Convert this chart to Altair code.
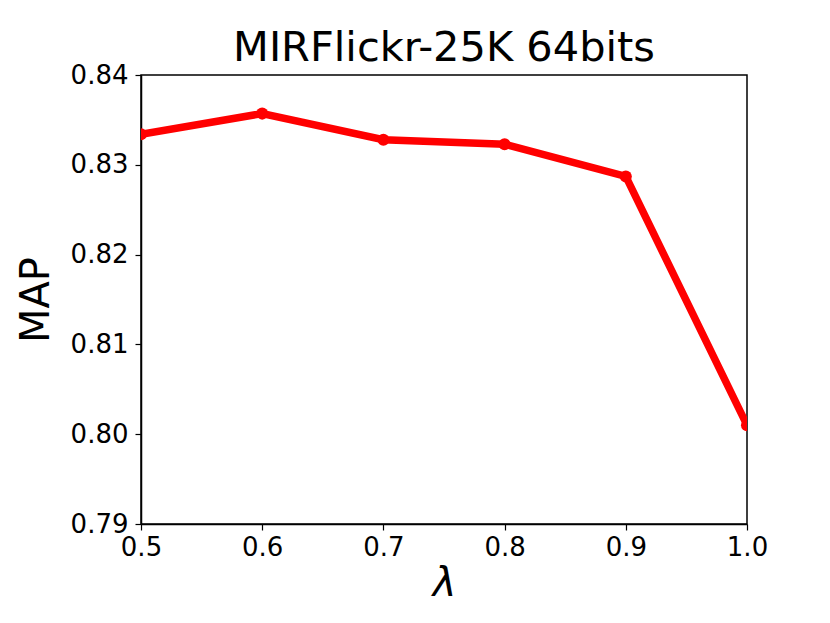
import altair as alt
import pandas as pd

lam = [0.5, 0.6, 0.7, 0.8, 0.9, 1.0]
map_vals = [0.8334, 0.8357, 0.8328, 0.8323, 0.8287, 0.8010]
y_ticks = [0.79, 0.80, 0.81, 0.82, 0.83, 0.84]

df = pd.DataFrame({"lam": lam, "map": map_vals})

FONT = "DejaVu Sans"

x = alt.X("lam:Q", scale=alt.Scale(domain=[0.5, 1.0], nice=False, zero=False),
          axis=alt.Axis(title="λ", values=lam, format=".1f", titleFontStyle="italic",
                        titleFontSize=40, titleFontWeight="normal", labelFontSize=26,
                        titlePadding=3, labelPadding=4, labelFlush=False))
y = alt.Y("map:Q", scale=alt.Scale(domain=[0.79, 0.84], nice=False, zero=False),
          axis=alt.Axis(title="MAP", values=y_ticks, format=".2f",
                        titleFontSize=40, titleFontWeight="normal", labelFontSize=26,
                        titlePadding=14, labelPadding=7, labelFlush=False))

line = alt.Chart(df).mark_line(color="#ff0000", strokeWidth=7.5, clip=True).encode(x=x, y=y)
pts = alt.Chart(df).mark_circle(color="#ff0000", size=145, opacity=1, clip=True).encode(x=x, y=y)

chart = (line + pts).properties(
    width=606, height=449,
    title=alt.TitleParams("MIRFlickr-25K 64bits", fontSize=41.5, fontWeight="normal", font=FONT,
                          color="black", offset=-7),
    autosize=alt.AutoSizeParams(type="none"),
    padding={"left": 133, "top": 67, "right": 60, "bottom": 80},
).configure_view(stroke="black", strokeWidth=1.5).configure_axis(
    domainColor="black", tickColor="black", labelColor="black", titleColor="black",
    grid=False, tickSize=6, labelFont=FONT, titleFont=FONT, domainWidth=1.5, tickWidth=1.2
)

chart.save("out.html", embed_options={"renderer": "svg", "actions": False})
